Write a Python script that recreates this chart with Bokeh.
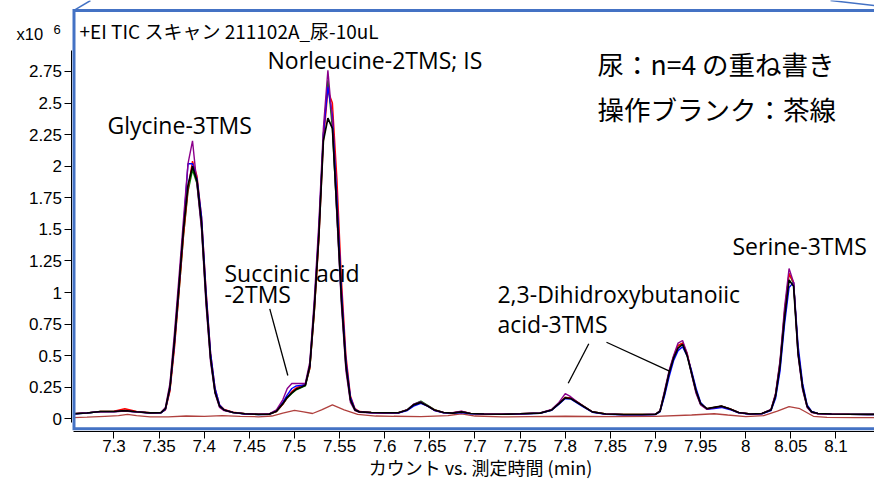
from bokeh.plotting import figure
from bokeh.models import FixedTicker, Label, Range1d
from bokeh.embed import file_html
from bokeh.resources import INLINE

# ---------------- data (counts in units of 10^6) ----------------
rt = [7.255, 7.27, 7.285, 7.30, 7.312, 7.325, 7.34, 7.352,
      7.357, 7.362, 7.367, 7.372, 7.377, 7.382, 7.387, 7.392, 7.397, 7.402, 7.407, 7.412, 7.417, 7.422,
      7.432, 7.445, 7.46, 7.472, 7.48, 7.487, 7.492, 7.497, 7.502, 7.507, 7.512, 7.517,
      7.522, 7.527, 7.532, 7.537, 7.542, 7.547, 7.552, 7.557, 7.562, 7.567, 7.572,
      7.585, 7.60, 7.615, 7.625, 7.632, 7.64, 7.648, 7.655, 7.665, 7.675, 7.685, 7.695,
      7.71, 7.73, 7.75, 7.772, 7.785, 7.793, 7.80, 7.806, 7.812, 7.82, 7.83, 7.845,
      7.865, 7.885, 7.9, 7.905, 7.91, 7.915, 7.92, 7.925, 7.93, 7.935, 7.94, 7.945, 7.95,
      7.957, 7.965, 7.973, 7.982, 7.992, 8.005, 8.018, 8.028, 8.033, 8.038, 8.043, 8.048, 8.053, 8.058, 8.063, 8.068, 8.073, 8.08,
      8.095, 8.115, 8.135, 8.15]

urine_black = [0.040, 0.046, 0.058, 0.058, 0.064, 0.056, 0.047, 0.048,
               0.08, 0.25, 0.62, 1.05, 1.5, 1.85, 2.0, 1.88, 1.55, 0.95, 0.48, 0.21, 0.1, 0.07,
               0.05, 0.04, 0.035, 0.037, 0.06, 0.12, 0.17, 0.205, 0.235, 0.25, 0.265, 0.42,
               0.88, 1.45, 2.2, 2.38, 2.3, 1.65, 0.95, 0.42, 0.15, 0.07, 0.055,
               0.05, 0.048, 0.048, 0.07, 0.11, 0.13, 0.1, 0.07, 0.05, 0.045, 0.055, 0.042,
               0.038, 0.036, 0.04, 0.045, 0.07, 0.12, 0.165, 0.16, 0.135, 0.1, 0.055, 0.038,
               0.034, 0.034, 0.036, 0.06, 0.2, 0.36, 0.48, 0.56, 0.59, 0.5, 0.36, 0.22, 0.12,
               0.08, 0.09, 0.1, 0.08, 0.05, 0.038, 0.042, 0.07, 0.18, 0.42, 0.8, 1.1, 1.05, 0.52, 0.25, 0.1, 0.055, 0.042,
               0.038, 0.036, 0.035, 0.035]

urine_purple = [0.040, 0.047, 0.057, 0.056, 0.062, 0.054, 0.046, 0.05,
                0.09, 0.28, 0.68, 1.12, 1.58, 2.02, 2.2, 1.85, 1.5, 0.9, 0.45, 0.2, 0.09, 0.065,
                0.05, 0.04, 0.035, 0.04, 0.07, 0.15, 0.24, 0.28, 0.28, 0.28, 0.28, 0.45,
                0.95, 1.55, 2.3, 2.76, 2.35, 1.6, 0.9, 0.38, 0.13, 0.065, 0.052,
                0.048, 0.046, 0.047, 0.072, 0.115, 0.135, 0.1, 0.068, 0.05, 0.048, 0.06, 0.043,
                0.038, 0.036, 0.04, 0.046, 0.075, 0.13, 0.2, 0.175, 0.14, 0.1, 0.055, 0.037,
                0.033, 0.033, 0.036, 0.065, 0.22, 0.38, 0.5, 0.6, 0.62, 0.52, 0.35, 0.2, 0.11,
                0.075, 0.088, 0.098, 0.078, 0.05, 0.038, 0.042, 0.075, 0.2, 0.46, 0.88, 1.19, 1.08, 0.5, 0.23, 0.09, 0.05, 0.04,
                0.037, 0.035, 0.034, 0.034]

urine_blue = [0.038, 0.046, 0.057, 0.057, 0.062, 0.055, 0.046, 0.047,
              0.075, 0.24, 0.6, 1.05, 1.52, 2.02, 2.02, 1.9, 1.6, 1.0, 0.52, 0.24, 0.11, 0.07,
              0.05, 0.038, 0.034, 0.036, 0.062, 0.13, 0.19, 0.24, 0.26, 0.265, 0.27, 0.42,
              0.9, 1.5, 2.25, 2.63, 2.4, 1.75, 1.02, 0.46, 0.17, 0.075, 0.055,
              0.048, 0.046, 0.046, 0.066, 0.1, 0.122, 0.098, 0.066, 0.048, 0.044, 0.05, 0.04,
              0.037, 0.035, 0.038, 0.044, 0.068, 0.115, 0.16, 0.158, 0.13, 0.095, 0.052, 0.036,
              0.032, 0.032, 0.034, 0.055, 0.18, 0.33, 0.46, 0.54, 0.57, 0.5, 0.38, 0.24, 0.13,
              0.075, 0.082, 0.09, 0.074, 0.048, 0.036, 0.04, 0.065, 0.16, 0.38, 0.75, 1.04, 1.08, 0.58, 0.28, 0.11, 0.058, 0.042,
              0.037, 0.035, 0.034, 0.034]

urine_red = [0.04, 0.047, 0.058, 0.06, 0.08, 0.058, 0.048, 0.048,
             0.07, 0.22, 0.56, 1.0, 1.45, 1.82, 2.04, 1.92, 1.6, 1.02, 0.52, 0.24, 0.11, 0.075,
             0.052, 0.04, 0.036, 0.038, 0.058, 0.115, 0.17, 0.215, 0.245, 0.26, 0.27, 0.4,
             0.85, 1.42, 2.2, 2.6, 2.5, 1.9, 1.1, 0.5, 0.18, 0.08, 0.058,
             0.05, 0.047, 0.048, 0.07, 0.11, 0.128, 0.1, 0.07, 0.05, 0.046, 0.058, 0.043,
             0.038, 0.036, 0.04, 0.045, 0.07, 0.12, 0.17, 0.165, 0.14, 0.1, 0.056, 0.038,
             0.034, 0.034, 0.036, 0.06, 0.2, 0.36, 0.49, 0.58, 0.6, 0.52, 0.37, 0.22, 0.12,
             0.08, 0.09, 0.1, 0.08, 0.05, 0.038, 0.042, 0.07, 0.19, 0.44, 0.84, 1.15, 1.08, 0.54, 0.26, 0.1, 0.055, 0.042,
             0.038, 0.036, 0.035, 0.035]

urine_green = [0.04, 0.046, 0.058, 0.058, 0.064, 0.055, 0.047, 0.048,
               0.075, 0.23, 0.58, 1.0, 1.45, 1.8, 1.97, 1.86, 1.52, 0.95, 0.48, 0.21, 0.1, 0.07,
               0.05, 0.04, 0.035, 0.037, 0.058, 0.115, 0.165, 0.2, 0.23, 0.245, 0.26, 0.4,
               0.85, 1.45, 2.25, 2.68, 2.3, 1.62, 0.95, 0.42, 0.15, 0.07, 0.055,
               0.05, 0.048, 0.048, 0.072, 0.115, 0.14, 0.105, 0.072, 0.05, 0.046, 0.056, 0.043,
               0.038, 0.036, 0.04, 0.045, 0.07, 0.12, 0.17, 0.165, 0.138, 0.1, 0.056, 0.038,
               0.034, 0.034, 0.036, 0.062, 0.21, 0.37, 0.49, 0.58, 0.6, 0.51, 0.36, 0.21, 0.115,
               0.078, 0.09, 0.1, 0.08, 0.05, 0.038, 0.042, 0.072, 0.19, 0.45, 0.85, 1.15, 1.07, 0.52, 0.24, 0.095, 0.053, 0.041,
               0.037, 0.035, 0.035, 0.035]

blank_rt = [7.255, 7.27, 7.29, 7.305, 7.315, 7.325, 7.34, 7.36, 7.38, 7.40, 7.42, 7.44, 7.46,
            7.475, 7.487, 7.5, 7.51, 7.52, 7.53, 7.542, 7.555, 7.57, 7.59, 7.61, 7.64, 7.67,
            7.685, 7.70, 7.73, 7.76, 7.80, 7.85, 7.9, 7.94, 7.965, 7.98, 8.0, 8.02, 8.035,
            8.048, 8.06, 8.075, 8.09, 8.12, 8.15]
blank = [0.01, 0.013, 0.02, 0.025, 0.035, 0.025, 0.015, 0.015, 0.022, 0.02, 0.025, 0.02, 0.016,
         0.022, 0.045, 0.066, 0.055, 0.042, 0.07, 0.11, 0.07, 0.035, 0.022, 0.02, 0.018, 0.025,
         0.04, 0.022, 0.015, 0.018, 0.02, 0.017, 0.02, 0.03, 0.04, 0.03, 0.018, 0.025, 0.06,
         0.097, 0.08, 0.02, 0.012, 0.01, 0.01]

x_ticks = [7.3, 7.35, 7.4, 7.45, 7.5, 7.55, 7.6, 7.65, 7.7, 7.75, 7.8, 7.85, 7.9, 7.95, 8.0, 8.05, 8.1]
x_tick_labels = ["7.3", "7.35", "7.4", "7.45", "7.5", "7.55", "7.6", "7.65", "7.7", "7.75",
                 "7.8", "7.85", "7.9", "7.95", "8", "8.05", "8.1"]
y_ticks = [0.0, 0.25, 0.5, 0.75, 1.0, 1.25, 1.5, 1.75, 2.0, 2.25, 2.5, 2.75]
y_tick_labels = ["0", "0.25", "0.5", "0.75", "1", "1.25", "1.5", "1.75", "2", "2.25", "2.5", "2.75"]

# ---------------- figure ----------------
p = figure(width=874, height=479, output_backend="svg", toolbar_location=None,
           x_range=Range1d(7.17424, 8.14266), y_range=Range1d(-0.4806, 3.3120),
           min_border_left=0, min_border_right=0, min_border_top=0, min_border_bottom=0)
p.outline_line_color = None
p.xgrid.grid_line_color = None
p.ygrid.grid_line_color = None
p.background_fill_color = "white"
p.border_fill_color = "white"

for ax in (p.xaxis[0], p.yaxis[0]):
    ax.major_tick_out = 7
    ax.major_tick_in = 0
    ax.minor_tick_out = 0
    ax.minor_tick_in = 0
    ax.axis_line_color = "#000000"
    ax.major_tick_line_color = "#000000"
    ax.major_label_text_font = "Liberation Sans"
    ax.major_label_text_font_size = "17px"
    ax.major_label_text_color = "#000000"
    ax.major_label_standoff = 2

p.xaxis.ticker = FixedTicker(ticks=x_ticks)
p.xaxis.major_label_overrides = dict(zip(x_ticks, x_tick_labels))
p.xaxis.bounds = (7.2551, 8.2)
p.xaxis.fixed_location = -0.0966
p.yaxis.ticker = FixedTicker(ticks=y_ticks)
p.yaxis.major_label_overrides = dict(zip(y_ticks, y_tick_labels))
p.yaxis.bounds = (-0.03, 2.916)
p.yaxis.fixed_location = 7.2524

# blank (operation blank, brown)
p.line(blank_rt, blank, line_color="#b0413e", line_width=1.3)
# urine overlays
p.line(rt, urine_green, line_color="#008000", line_width=1.4)
p.line(rt, urine_red, line_color="#ff0000", line_width=1.4)
p.line(rt, urine_blue, line_color="#0000ff", line_width=1.4)
p.line(rt, urine_purple, line_color="#8b008b", line_width=1.4)
p.line(rt, urine_black, line_color="#000000", line_width=1.7)

# callout leader lines
p.segment(x0=[7.4726, 7.8261, 7.8457], y0=[0.871, 0.594, 0.606],
          x1=[7.4926, 7.8033, 7.9155], y1=[0.343, 0.282, 0.377],
          line_color="#000000", line_width=1.3)

# blue zoom frame (slide callout)
p.line([8.2, 7.25568, 7.25568, 8.2], [3.2336, 3.2336, -0.0792, -0.0792],
       line_color="#4472c4", line_width=3, line_join="miter")
p.segment(x0=[7.25568, 8.09391], y0=[3.2336, 3.3120], x1=[7.27396, 8.1427], y1=[3.3120, 3.2724],
          line_color="#4472c4", line_width=1.5)

def lab(x, y, text, font, size, align="left"):
    p.add_layout(Label(x=x, y=y, text=text, text_font=font, text_font_size=size,
                       text_align=align, text_baseline="middle", text_color="#000000"))

lat = "Open Sans"
cjk = "Noto Sans CJK JP"
lab(7.4701, 2.8447, "Norleucine-2TMS; IS", lat, "23px")
lab(7.2928, 2.3246, "Glycine-3TMS", lat, "23px")
lab(7.4224, 1.158, "Succinic acid", lat, "23px")
lab(7.4224, 0.9864, "-2TMS", lat, "23px")
lab(7.7249, 0.9864, "2,3-Dihidroxybutanoiic", lat, "23px")
lab(7.7249, 0.7489, "acid-3TMS", lat, "23px")
lab(7.9853, 1.372, "Serine-3TMS", lat, "23px")
lab(7.8358, 2.813, "尿：n=4 の重ね書き", cjk, "26.5px")
lab(7.8358, 2.457, "操作ブランク：茶線", cjk, "26.5px")
lab(7.2618, 3.0745, "+EI TIC スキャン 211102A_尿-10uL", cjk, "19px")
lab(7.19197, 3.0444, "x10", "Liberation Sans", "16.5px")
lab(7.2330, 3.0824, "6", "Liberation Sans", "13px")
lab(7.7061, -0.3777, "カウント vs. 測定時間 (min)", cjk, "18px", align="center")

open("out.html", "w").write(file_html(p, INLINE))
